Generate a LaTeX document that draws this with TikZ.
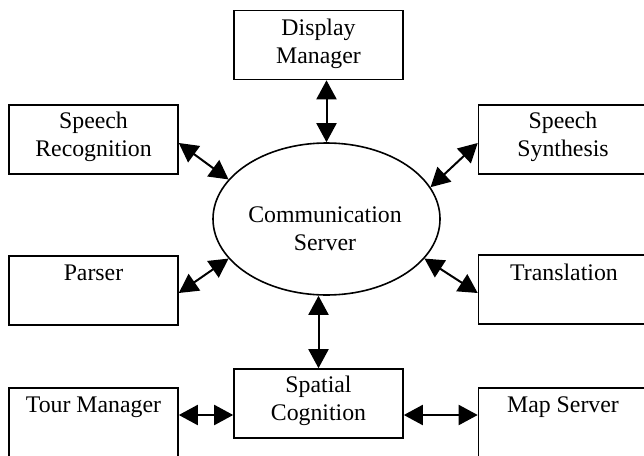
\documentclass[tikz,border=0pt]{standalone}
\usepackage{fontspec}
\setmainfont{Liberation Serif}
\usetikzlibrary{arrows.meta,shapes.geometric}
\tikzset{
  box/.style={draw, line width=1.6pt, minimum width=169pt, minimum height=69pt, inner sep=0pt},
  lbl/.style={anchor=base, inner sep=0pt, font=\fontsize{23.8}{28}\selectfont},
  biarrow/.style={line width=2pt, {Triangle[length=19pt,width=20pt]}-{Triangle[length=19pt,width=20pt]}}
}
\newcommand{\twol}[2]{\setlength{\tabcolsep}{0pt}\begin{tabular}[t]{c}#1\\#2\end{tabular}}
\begin{document}
\begin{tikzpicture}[x=1pt,y=-1pt]
\clip (0,0) rectangle (644,455);
\fill[white] (0,0) rectangle (644,455);
% boxes
\node[box] (dm) at (318.5,45) {};
\node[box] (sr) at (93.5,139.5) {};
\node[box] (ss) at (563,139.5) {};
\node[box] (pa) at (93.5,290.5) {};
\node[box] (tr) at (563,289.5) {};
\node[box] (sc) at (318.5,403.5) {};
\node[box] (tm) at (93.5,422.5) {};
\node[box] (ms) at (563,422.5) {};
\node[draw, ellipse, line width=1.6pt, minimum width=227pt, minimum height=152pt, inner sep=0pt] (ell) at (326.5,219) {};
% labels
\node[lbl] (dmt) at (318.5,35) {\twol{Display}{Manager}};
\node[lbl] (srt) at (93.5,128) {\twol{Speech}{Recognition}};
\node[lbl] (sst) at (563,128) {\twol{Speech}{Synthesis}};
\node[lbl] (ellt) at (325,222) {\twol{Communication}{Server}};
\node[lbl] (pat) at (93.5,280) {Parser};
\node[lbl] (trt) at (564,280) {Translation};
\node[lbl] (sct) at (318.5,392) {\twol{Spatial}{Cognition}};
\node[lbl] (tmt) at (93.5,412) {Tour Manager};
\node[lbl] (mst) at (563,412) {Map Server};
% connectors
\draw[biarrow] (ell.north |- dm.south) -- (ell.north);
\draw[biarrow] (sc.north |- ell.south) -- (sc.north);
\draw[biarrow] ([yshift=-3.5pt]sr.east) -- (ell.158);
\draw[biarrow] ([yshift=-3.5pt]ss.west) -- (ell.17);
\draw[biarrow] ([yshift=-2.5pt]pa.east) -- (ell.202);
\draw[biarrow] (ell.-22) -- ([yshift=-3.5pt]tr.west);
\draw[biarrow] ([yshift=-11.5pt]sc.west -| tm.east) -- ([yshift=-11.5pt]sc.west);
\draw[biarrow] ([yshift=-11.5pt]sc.east) -- ([yshift=-11.5pt]sc.east -| ms.west);
\end{tikzpicture}
\end{document}
